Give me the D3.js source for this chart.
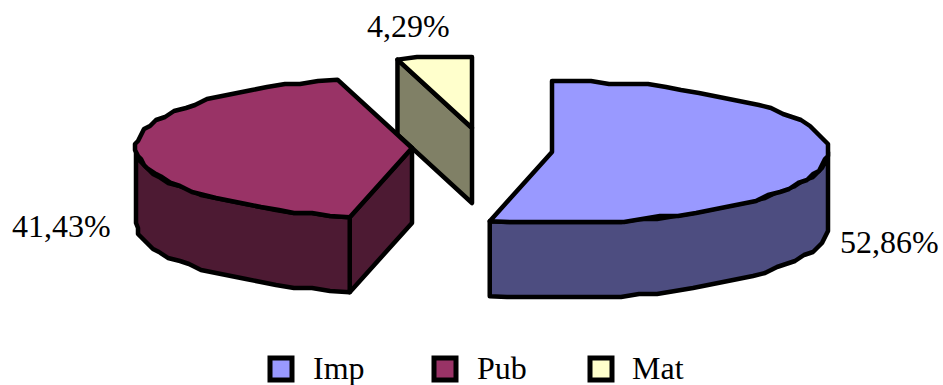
<!DOCTYPE html>
<html>
<head>
<meta charset="utf-8">
<script src="https://cdn.jsdelivr.net/npm/d3@7"></script>
<style>
  html, body { margin: 0; padding: 0; background: #fff; }
  svg { display: block; }
  text { font-family: "Liberation Serif", "Times New Roman", serif; font-size: 32px; fill: #000; }
</style>
</head>
<body>
<svg id="chart" width="943" height="385"></svg>
<script>
// Share of each category
const categories = ["Imp", "Pub", "Mat"];
const shares = [52.86, 41.43, 4.29];
const shareLabels = ["52,86%", "41,43%", "4,29%"];
const topColors = ["#9999FF", "#993366", "#FFFFCC"];
const sideColors = ["#4D4D80", "#4D1A33", "#808066"];

// Exploded pie layout: each slice has its own apex on the page
const apexes = [[552, 152], [412, 148], [472, 128]];
const labelAnchors = [[840, 253], [12, 237], [367, 37]];
const legendSwatchX = [270, 434, 590];
const legendTextX = [313, 477, 632];

const radiusX = 276, radiusY = 71, depth = 75;
const stepDeg = 4, snap = 3;

const svg = d3.select("#chart");
const arcs = d3.pie().sort(null)(shares);
const outline = d3.line();

// Points along the rim, quantised so the edge keeps its coarse raster look
function rim(apex, a0, a1, drop) {
  const n = Math.max(1, Math.round((a1 - a0) * 180 / Math.PI / stepDeg));
  return d3.range(n + 1).map(i => {
    const a = a0 + (a1 - a0) * i / n;
    const x = apex[0] + radiusX * Math.sin(a);
    const y = apex[1] - radiusY * Math.cos(a) + drop;
    const onEnd = i === 0 || i === n;
    return onEnd ? [x, y] : [Math.round(x / snap) * snap, Math.round(y / snap) * snap];
  });
}

function tip(apex, a) {
  return [apex[0] + radiusX * Math.sin(a), apex[1] - radiusY * Math.cos(a)];
}

const layers = svg.append("g")
  .attr("stroke", "#000")
  .attr("stroke-width", 4.5)
  .attr("stroke-linejoin", "round");

// Far slices first, so nearer ones overlap them
[2, 1, 0].forEach(i => {
  const { startAngle: a0, endAngle: a1 } = arcs[i];
  const apex = apexes[i];
  const g = layers.append("g");

  // Radial walls that face the viewer
  [[a0, -Math.sin(a0)], [a1, Math.sin(a1)]].forEach(([a, facing]) => {
    if (facing > 1e-6) {
      const p = tip(apex, a);
      g.append("path")
        .attr("fill", sideColors[i])
        .attr("d", outline([apex, p, [p[0], p[1] + depth], [apex[0], apex[1] + depth]]) + "Z");
    }
  });

  // Curved outer wall, front half only
  const w0 = Math.max(a0, Math.PI / 2), w1 = Math.min(a1, 3 * Math.PI / 2);
  if (w1 > w0) {
    const upper = rim(apex, w0, w1, 0);
    const lower = rim(apex, w0, w1, depth).reverse();
    g.append("path")
      .attr("fill", sideColors[i])
      .attr("d", outline(upper.concat(lower)) + "Z");
  }

  // Top face
  g.append("path")
    .attr("fill", topColors[i])
    .attr("d", outline([apex].concat(rim(apex, a0, a1, 0))) + "Z");
});

// Value labels
svg.append("g").selectAll("text")
  .data(shareLabels)
  .join("text")
  .attr("x", (d, i) => labelAnchors[i][0])
  .attr("y", (d, i) => labelAnchors[i][1])
  .text(d => d);

// Legend
const legend = svg.append("g");
categories.forEach((name, i) => {
  legend.append("rect")
    .attr("x", legendSwatchX[i]).attr("y", 358)
    .attr("width", 22).attr("height", 22)
    .attr("fill", topColors[i])
    .attr("stroke", "#000").attr("stroke-width", 5);
  legend.append("text")
    .attr("x", legendTextX[i]).attr("y", 379)
    .text(name);
});
</script>
</body>
</html>
